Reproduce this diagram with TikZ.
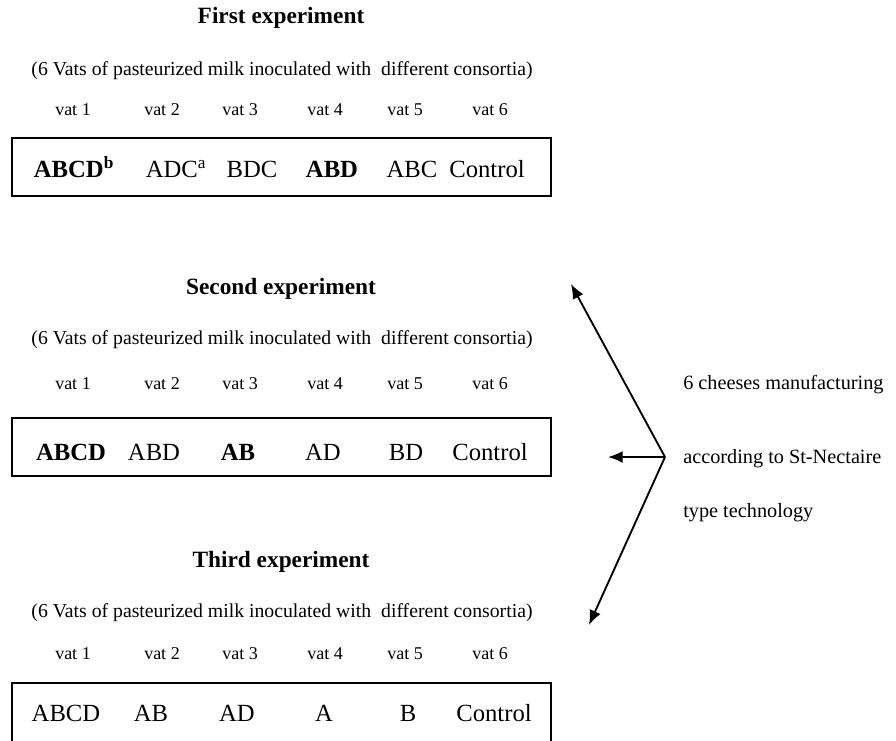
\documentclass[tikz,border=0pt]{standalone}
\usepackage{fontspec}
\setmainfont{Liberation Serif}
\usetikzlibrary{arrows.meta}
\tikzset{
  head/.style={anchor=base,font=\fontsize{17.5}{20}\selectfont\bfseries},
  note/.style={anchor=base,font=\fontsize{14.8}{17}\selectfont},
  vatlab/.style={anchor=base,font=\fontsize{13.5}{16}\selectfont},
  cons/.style={anchor=base,font=\fontsize{18.5}{21}\selectfont},
  side/.style={anchor=base west,inner sep=0pt,font=\fontsize{15.2}{18}\selectfont},
  frame/.style={line width=1.1pt},
  arr/.style={line width=1.4pt,-{Latex[length=11pt,width=9pt]}}
}
\begin{document}
\begin{tikzpicture}[x=0.75pt,y=-0.75pt]
\useasboundingbox (0,0) rectangle (896,740);
% first experiment
\node[head] (h1) at (281,23) {First experiment};
\node[note] (n1) at (282,75) {(6 Vats of pasteurized milk inoculated with \ different consortia)};
\node[vatlab] (v11) at (73,115) {vat 1};
\node[vatlab] (v12) at (162,115) {vat 2};
\node[vatlab] (v13) at (240,115) {vat 3};
\node[vatlab] (v14) at (325,115) {vat 4};
\node[vatlab] (v15) at (405,115) {vat 5};
\node[vatlab] (v16) at (490,115) {vat 6};
\draw[frame] (12,138) rectangle (551,196);
\node[cons] (c11) at (74,177) {\textbf{ABCD\textsuperscript{b}}};
\node[cons] (c12) at (176,177) {ADC\textsuperscript{a}};
\node[cons] (c13) at (252,177) {BDC};
\node[cons] (c14) at (332,177) {\textbf{ABD}};
\node[cons] (c15) at (412,177) {ABC};
\node[cons] (c16) at (487,177) {Control};
% second experiment
\node[head] (h2) at (281,294) {Second experiment};
\node[note] (n2) at (282,344) {(6 Vats of pasteurized milk inoculated with \ different consortia)};
\node[vatlab] (v21) at (73,389) {vat 1};
\node[vatlab] (v22) at (162,389) {vat 2};
\node[vatlab] (v23) at (240,389) {vat 3};
\node[vatlab] (v24) at (325,389) {vat 4};
\node[vatlab] (v25) at (405,389) {vat 5};
\node[vatlab] (v26) at (490,389) {vat 6};
\draw[frame] (12,418) rectangle (551,476);
\node[cons] (c21) at (71,460) {\textbf{ABCD}};
\node[cons] (c22) at (154,460) {ABD};
\node[cons] (c23) at (238,460) {\textbf{AB}};
\node[cons] (c24) at (323,460) {AD};
\node[cons] (c25) at (406,460) {BD};
\node[cons] (c26) at (490,460) {Control};
% third experiment
\node[head] (h3) at (281,567) {Third experiment};
\node[note] (n3) at (282,617) {(6 Vats of pasteurized milk inoculated with \ different consortia)};
\node[vatlab] (v31) at (73,659) {vat 1};
\node[vatlab] (v32) at (162,659) {vat 2};
\node[vatlab] (v33) at (240,659) {vat 3};
\node[vatlab] (v34) at (325,659) {vat 4};
\node[vatlab] (v35) at (405,659) {vat 5};
\node[vatlab] (v36) at (490,659) {vat 6};
\draw[frame] (12,683) rectangle (551,748);
\node[cons] (c31) at (66,721) {ABCD};
\node[cons] (c32) at (151,721) {AB};
\node[cons] (c33) at (237,721) {AD};
\node[cons] (c34) at (324,721) {A};
\node[cons] (c35) at (408,721) {B};
\node[cons] (c36) at (494,721) {Control};
% cheese making
\node[side] (s1) at (683,389) {6 cheeses manufacturing};
\node[side] (s2) at (683,463) {according to St-Nectaire};
\node[side] (s3) at (683,517) {type technology};
\coordinate (hub) at (665,457);
\coordinate (tipup) at (571,284);
\coordinate (tipleft) at (608,457);
\coordinate (tipdown) at (589,625);
\draw[arr] (hub) -- (tipup);
\draw[arr] (hub) -- (tipleft);
\draw[arr] (hub) -- (tipdown);
\end{tikzpicture}
\end{document}
